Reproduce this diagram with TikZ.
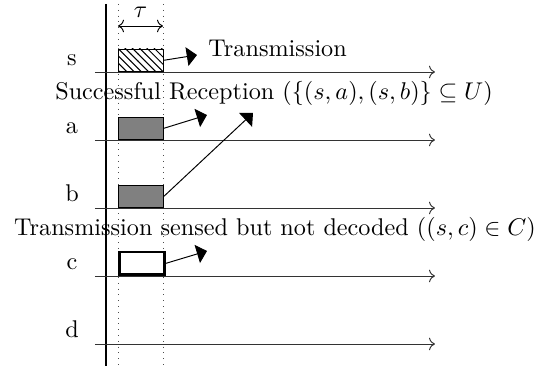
\documentclass[tikz,border=0pt]{standalone}
\usetikzlibrary{arrows.meta,patterns}
\begin{document}
\begin{tikzpicture}[x=0.4132pt,y=-0.4132pt,
  timeline/.style={draw=black!80, ->, line width=0.4pt},
  guide/.style={draw=black!70, dotted, line width=0.4pt},
  slot/.style={draw, rectangle, inner sep=0pt, minimum width=18.6pt, minimum height=9.3pt, anchor=south west, line width=0.4pt},
  busy/.style={slot, fill=black!50},
  sensed/.style={slot, fill=white, line width=1.1pt},
  sending/.style={slot, pattern=north west lines},
  lbl/.style={inner sep=0pt, anchor=base},
  pointer/.style={draw, line width=0.4pt, -{Triangle[length=4.2pt,width=7.8pt]}},
  caption/.style={inner sep=0pt, anchor=base}
]
\useasboundingbox (0,0) rectangle (550,366);
% axis and guides
\coordinate (axT) at (106,4); \coordinate (axB) at (106,366);
\draw[line width=0.6pt] (axT) -- (axB);
\coordinate (g1T) at (118,4); \coordinate (g1B) at (118,366);
\coordinate (g2T) at (163,4); \coordinate (g2B) at (163,366);
\draw[guide] (g1T) -- (g1B);
\draw[guide] (g2T) -- (g2B);
% tau
\coordinate (tauL) at (118,26); \coordinate (tauR) at (163,26);
\draw[<->, line width=0.4pt] (tauL) -- (tauR);
\node[inner sep=0pt] (tau) at (140.5,12) {$\tau$};
% timelines
\foreach \n/\y in {s/72,a/140,b/208,c/276,d/344}{
  \coordinate (L\n) at (95,\y);
  \coordinate (R\n) at (435,\y);
  \draw[timeline] (L\n) -- (R\n);
  \node[lbl] (n\n) at (72,\y-6) {\n};
}
% slots
\node[sending] (bs) at (118,72) {};
\node[busy] (ba) at (118,140) {};
\node[busy] (bb) at (118,208) {};
\node[sensed] (bc) at (118,276) {};
% arrow tips
\coordinate (ts) at (197,55);
\coordinate (ta) at (207,115);
\coordinate (tb) at (253,113);
\coordinate (tc) at (207,251);
\draw[pointer] (bs.east) -- (ts);
\draw[pointer] (ba.east) -- (ta);
\draw[pointer] (bb.east) -- (tb);
\draw[pointer] (bc.east) -- (tc);
% captions
\node[caption, anchor=base west] (capT) at (208,57) {Transmission};
\node[caption] (capS) at (274,100) {Successful Reception ($\{(s,a),(s,b)\}\subseteq U$)};
\node[caption] (capC) at (275,236) {Transmission sensed but not decoded ($(s,c)\in C$)};
\end{tikzpicture}
\end{document}
